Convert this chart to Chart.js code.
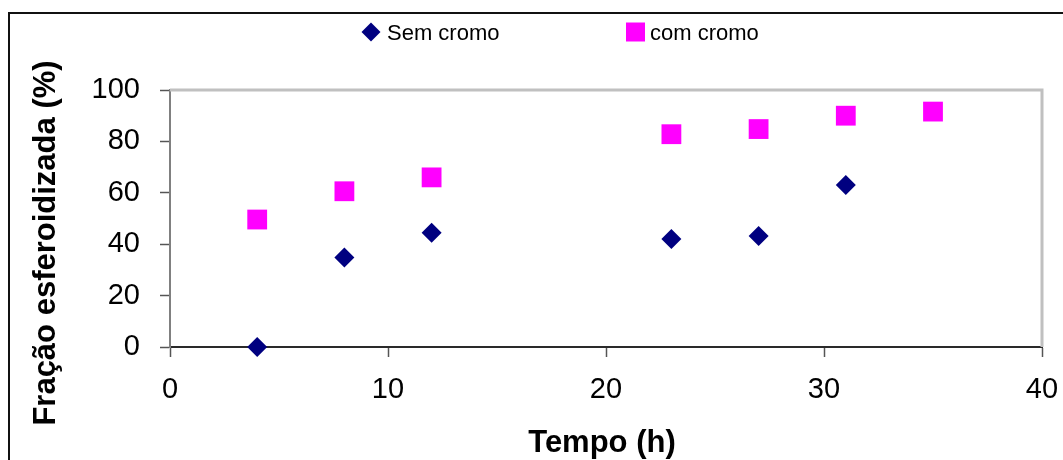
<!DOCTYPE html>
<html lang="pt">
<head>
<meta charset="utf-8">
<title>Fração esferoidizada x Tempo</title>
<script src="https://cdn.jsdelivr.net/npm/chart.js@4/dist/chart.umd.min.js"></script>
<style>
  html, body { margin: 0; padding: 0; background: #fff; }
  #wrap { position: relative; width: 1063px; height: 460px; }
</style>
</head>
<body>
<div id="wrap"><canvas id="esferChart"></canvas></div>
<script>
// ---------- Data ----------
const tempoSemCromo = [4, 8, 12, 23, 27, 31];
const fracaoSemCromo = [0, 34.8, 44.5, 42, 43.2, 63];

const tempoComCromo = [4, 8, 12, 23, 27, 31, 35];
const fracaoComCromo = [49.6, 60.6, 66, 82.8, 84.8, 90, 91.6];

const xTicks = [0, 10, 20, 30, 40];
const yTicks = [0, 20, 40, 60, 80, 100];

const seriesNames = ['Sem cromo', 'com cromo'];
const xTitle = 'Tempo (h)';
const yTitle = 'Fração esferoidizada (%)';

// ---------- Helpers ----------
const FONT = '"Liberation Sans", Arial, Helvetica, sans-serif';
const toPoints = (xs, ys) => xs.map((x, i) => ({ x: x, y: ys[i] }));

function drawMarker(ctx, style, color, x, y, r) {
  ctx.save();
  ctx.fillStyle = color;
  ctx.beginPath();
  if (style === 'rectRot') {
    ctx.moveTo(x, y - r);
    ctx.lineTo(x + r, y);
    ctx.lineTo(x, y + r);
    ctx.lineTo(x - r, y);
  } else {
    ctx.rect(x - r, y - r, 2 * r, 2 * r);
  }
  ctx.closePath();
  ctx.fill();
  ctx.restore();
}

// Frame, plot border, legend and axis titles
const decorPlugin = {
  id: 'decor',
  beforeDatasetsDraw(chart) {
    const { ctx, chartArea: a } = chart;
    ctx.save();
    ctx.strokeStyle = '#c0c0c0';
    ctx.lineWidth = 3;
    ctx.beginPath();
    ctx.moveTo(a.left, a.top);
    ctx.lineTo(a.right, a.top);
    ctx.lineTo(a.right, a.bottom);
    ctx.stroke();
    ctx.restore();
  },
  afterDraw(chart) {
    const ctx = chart.ctx;
    ctx.save();

    // outer frame
    ctx.strokeStyle = '#111';
    ctx.lineWidth = 2;
    ctx.beginPath();
    ctx.moveTo(9, chart.height);
    ctx.lineTo(9, 13);
    ctx.lineTo(chart.width, 13);
    ctx.stroke();

    // legend
    const legendPos = [
      { mx: 371, tx: 387, r: 9.5 },
      { mx: 635.5, tx: 650, r: 9.5 }
    ];
    ctx.font = '22px ' + FONT;
    ctx.textBaseline = 'alphabetic';
    ctx.textAlign = 'left';
    chart.data.datasets.forEach((ds, i) => {
      const p = legendPos[i];
      drawMarker(ctx, ds.pointStyle, ds.backgroundColor, p.mx, 32, p.r);
      ctx.fillStyle = '#000';
      ctx.fillText(ds.label, p.tx, 40);
    });

    // axis titles
    ctx.font = 'bold 31px ' + FONT;
    ctx.fillStyle = '#000';
    ctx.textAlign = 'center';
    ctx.textBaseline = 'middle';
    ctx.fillText(xTitle, 602, 443);
    ctx.translate(46, 243);
    ctx.rotate(-Math.PI / 2);
    ctx.fillText(yTitle, 0, 0);

    ctx.restore();
  }
};

// ---------- Chart ----------
const ctxMain = document.getElementById('esferChart').getContext('2d');

new Chart(ctxMain, {
  type: 'scatter',
  data: {
    datasets: [
      {
        label: seriesNames[0],
        data: toPoints(tempoSemCromo, fracaoSemCromo),
        pointStyle: 'rectRot',
        pointRadius: 10,
        pointHoverRadius: 10,
        borderWidth: 0,
        backgroundColor: '#000080',
        borderColor: '#000080',
        clip: false
      },
      {
        label: seriesNames[1],
        data: toPoints(tempoComCromo, fracaoComCromo),
        pointStyle: 'rect',
        pointRadius: 14,
        pointHoverRadius: 14,
        borderWidth: 0,
        backgroundColor: '#ff00ff',
        borderColor: '#ff00ff',
        clip: false
      }
    ]
  },
  options: {
    responsive: true,
    maintainAspectRatio: false,
    animation: false,
    layout: { padding: { left: 0, right: 21, top: 90, bottom: 0 } },
    plugins: {
      legend: { display: false },
      tooltip: { enabled: false }
    },
    scales: {
      x: {
        type: 'linear',
        min: xTicks[0],
        max: xTicks[xTicks.length - 1],
        afterBuildTicks: (s) => { s.ticks = xTicks.map(v => ({ value: v })); },
        afterFit: (s) => { s.height = 113; s.paddingLeft = 0; s.paddingRight = 0; },
        border: { color: '#2a2a2a', width: 2 },
        grid: { drawOnChartArea: false, tickLength: 10, tickColor: '#555', tickWidth: 1.5 },
        ticks: { color: '#000', padding: 16, font: { family: FONT, size: 29 } }
      },
      y: {
        type: 'linear',
        min: yTicks[0],
        max: yTicks[yTicks.length - 1],
        afterBuildTicks: (s) => { s.ticks = yTicks.map(v => ({ value: v })); },
        afterFit: (s) => { s.width = 170; s.paddingTop = 0; s.paddingBottom = 0; },
        border: { color: '#808080', width: 2 },
        grid: { drawOnChartArea: false, tickLength: 10, tickColor: '#555', tickWidth: 1.5 },
        ticks: { color: '#000', padding: 20, font: { family: FONT, size: 29 } }
      }
    }
  },
  plugins: [decorPlugin]
});
</script>
</body>
</html>
